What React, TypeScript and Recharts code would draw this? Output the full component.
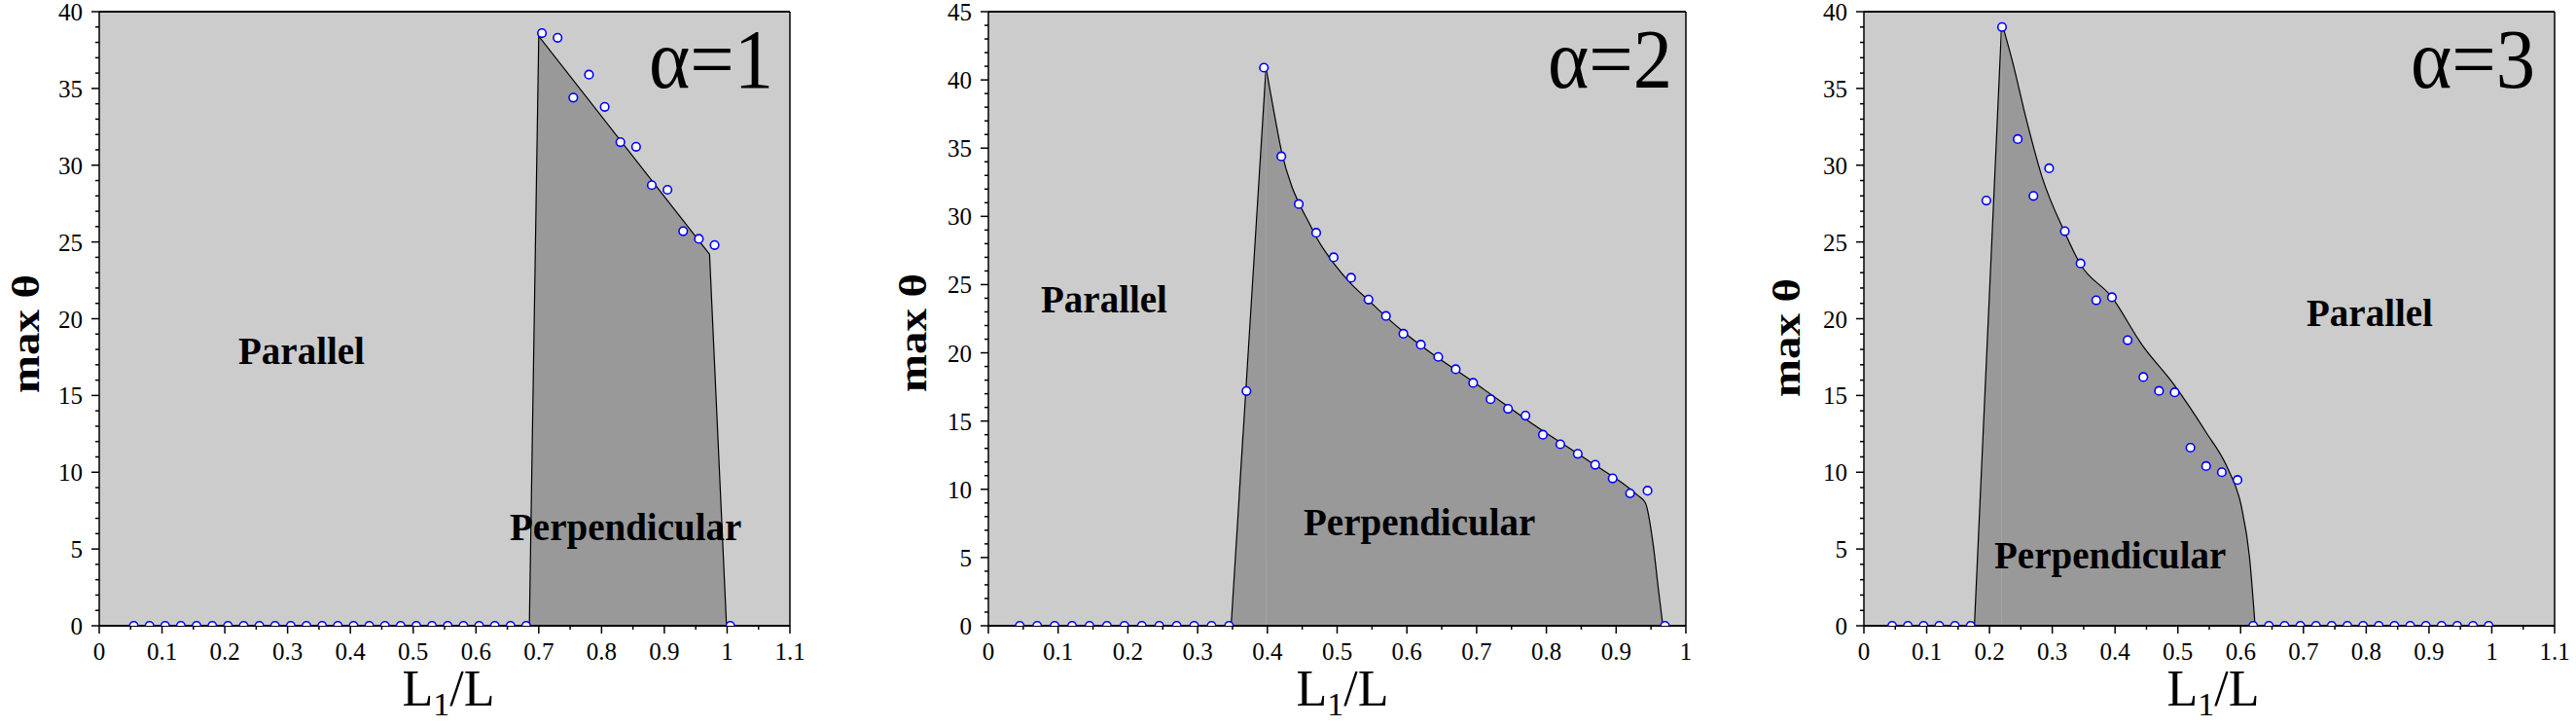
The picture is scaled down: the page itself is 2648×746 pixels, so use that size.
import React from 'react';
import { ComposedChart, Area, Scatter, XAxis, YAxis, CartesianGrid, ReferenceLine } from 'recharts';

const SERIF = '"Liberation Serif", "Times New Roman", Times, serif';

// L1/L sample positions
const L1_A1 = [
  0.055, 0.08, 0.105, 0.13, 0.155, 0.18, 0.205, 0.23, 0.255, 0.28, 0.305, 0.33, 0.355,
  0.38, 0.405, 0.43, 0.455, 0.48, 0.505, 0.53, 0.555, 0.58, 0.605, 0.63, 0.655, 0.68,
  0.705, 0.73, 0.755, 0.78, 0.805, 0.83, 0.855, 0.88, 0.905, 0.93, 0.955, 0.98, 1.005,
];
const L1_A23 = [
  0.045, 0.07, 0.095, 0.12, 0.145, 0.17, 0.195, 0.22, 0.245, 0.27, 0.295, 0.32, 0.345,
  0.37, 0.395, 0.42, 0.445, 0.47, 0.495, 0.52, 0.545, 0.57, 0.595, 0.62, 0.645, 0.67,
  0.695, 0.72, 0.745, 0.77, 0.795, 0.82, 0.845, 0.87, 0.895, 0.92, 0.945, 0.97, 0.995,
];

// simulated max θ at each sample
const THETA_A1 = [
  0, 0, 0, 0, 0, 0, 0, 0, 0, 0, 0, 0, 0, 0, 0, 0, 0, 0, 0, 0, 0, 0, 0, 0, 0, 0,
  38.6, 38.3, 34.4, 35.9, 33.8, 31.5, 31.2, 28.7, 28.4, 25.7, 25.2, 24.8, 0,
];
const THETA_A2 = [
  0, 0, 0, 0, 0, 0, 0, 0, 0, 0, 0, 0, 0,
  17.2, 40.9, 34.4, 30.9, 28.8, 27.0, 25.5, 23.9, 22.7, 21.4, 20.6, 19.7, 18.8,
  17.8, 16.6, 15.9, 15.4, 14.0, 13.3, 12.6, 11.8, 10.8, 9.7, 9.9, 0,
];
const THETA_A3 = [
  0, 0, 0, 0, 0, 0,
  27.7, 39.0, 31.7, 28.0, 29.8, 25.7, 23.6, 21.2, 21.4, 18.6, 16.2, 15.3, 15.2,
  11.6, 10.4, 10.0, 9.5,
  0, 0, 0, 0, 0, 0, 0, 0, 0, 0, 0, 0, 0, 0, 0, 0,
];

// phase boundary, α=1 (piecewise straight)
const EDGE_A1_X = [0.685, 0.7, 0.972, 0.999];
const EDGE_A1_Y = [0, 38.4, 24.2, 0];

// phase boundary, α=2: steep rise then smooth decay
const RISE_A2_X = [0.348, 0.398];
const RISE_A2_Y = [0, 40.9];
const FALL_A2_X = [0.398, 0.41, 0.421, 0.435, 0.446, 0.46, 0.471, 0.496, 0.521, 0.546, 0.571, 0.596, 0.621, 0.7, 0.78, 0.86, 0.93, 0.942, 0.953, 0.961, 0.967];
const FALL_A2_Y = [40.9, 37.5, 34.6, 32.2, 30.9, 29.5, 28.4, 26.5, 25.0, 23.8, 22.6, 21.5, 20.5, 17.7, 14.8, 12.1, 9.6, 9.0, 6.0, 2.5, 0];

// phase boundary, α=3
const RISE_A3_X = [0.176, 0.2195];
const RISE_A3_Y = [0, 39.3];
const FALL_A3_X = [0.2195, 0.237, 0.258, 0.284, 0.319, 0.344, 0.395, 0.443, 0.494, 0.545, 0.58, 0.601, 0.614, 0.623];
const FALL_A3_Y = [39.3, 36.7, 33.1, 29.2, 25.7, 23.6, 21.4, 18.3, 15.7, 12.6, 10.2, 7.8, 4.5, 0];

// labelled axis ticks
const X_MAJOR_11 = [0, 0.1, 0.2, 0.3, 0.4, 0.5, 0.6, 0.7, 0.8, 0.9, 1, 1.1];
const X_MAJOR_10 = [0, 0.1, 0.2, 0.3, 0.4, 0.5, 0.6, 0.7, 0.8, 0.9, 1];
const Y_MAJOR_40 = [0, 5, 10, 15, 20, 25, 30, 35, 40];
const Y_MAJOR_45 = [0, 5, 10, 15, 20, 25, 30, 35, 40, 45];

const AXIS_W = 60;
const PAD_R = 24;
const CHART_H = 746;
const TICK_FONT = 25;

const pairs = (xs: number[], ys: number[]) => ys.map((y, i) => ({ x: xs[i], y }));

// majors plus evenly spaced unlabelled ticks between them
const withMinor = (major: number[], parts: number) => {
  const out: number[] = [];
  major.forEach((m, i) => {
    out.push(m);
    const next = major[i + 1];
    if (next === undefined) return;
    for (let k = 1; k < parts; k++) out.push(m + ((next - m) * k) / parts);
  });
  return out;
};

const isMajor = (major: number[], v: number) => major.some((m) => Math.abs(m - v) < 1e-6);

const XTick = ({ x, y, payload, major }: any) => {
  const big = isMajor(major, payload.value);
  return (
    <g>
      <line x1={x} x2={x} y1={y} y2={y + (big ? 8 : 4)} stroke="#000" strokeWidth={1.5} />
      {big && (
        <text x={x} y={y + 17} dy="0.71em" textAnchor="middle" fontFamily={SERIF} fontSize={TICK_FONT} fill="#000">
          {String(payload.value)}
        </text>
      )}
    </g>
  );
};

const YTick = ({ x, y, payload, major }: any) => {
  const big = isMajor(major, payload.value);
  return (
    <g>
      <line x1={x} x2={x - (big ? 8 : 4)} y1={y} y2={y} stroke="#000" strokeWidth={1.5} />
      {big && (
        <text x={x - 17} y={y} dy="0.36em" textAnchor="end" fontFamily={SERIF} fontSize={TICK_FONT} fill="#000">
          {String(payload.value)}
        </text>
      )}
    </g>
  );
};

const Ring = (p: any) => (
  <circle cx={p.cx} cy={p.cy} r={4.3} fill="#ffffff" stroke="#0000ff" strokeWidth={1.6} />
);

type Edge = { data: { x: number; y: number }[]; type: 'linear' | 'monotone' };

type PanelProps = {
  left: number;
  plotWidth: number;
  xMax: number;
  xMajor: number[];
  yMax: number;
  yMajor: number[];
  points: { x: number; y: number }[];
  edges: Edge[];
};

function Panel({ left, plotWidth, xMax, xMajor, yMax, yMajor, points, edges }: PanelProps) {
  const xTicks = withMinor(xMajor, 2);
  const yTicks = withMinor(yMajor, 5);
  return (
    <div style={{ position: 'absolute', left: left - AXIS_W, top: 0 }}>
      <ComposedChart
        width={plotWidth + AXIS_W + PAD_R}
        height={CHART_H}
        margin={{ top: 12, right: PAD_R, bottom: 43, left: 0 }}
      >
        <CartesianGrid fill="#cccccc" stroke="none" horizontal={false} vertical={false} />
        <XAxis
          type="number"
          dataKey="x"
          domain={[0, xMax]}
          ticks={xTicks}
          interval={0}
          allowDataOverflow
          height={60}
          tickSize={0}
          tickMargin={0}
          tickLine={false}
          axisLine={{ stroke: '#000', strokeWidth: 2 }}
          tick={(p: any) => <XTick {...p} major={xMajor} />}
        />
        <YAxis
          type="number"
          dataKey="y"
          domain={[0, yMax]}
          ticks={yTicks}
          interval={0}
          allowDataOverflow
          width={AXIS_W}
          tickSize={0}
          tickMargin={0}
          tickLine={false}
          axisLine={{ stroke: '#000', strokeWidth: 1.5 }}
          tick={(p: any) => <YTick {...p} major={yMajor} />}
        />
        {edges.map((e, i) => (
          <Area
            key={i}
            data={e.data}
            dataKey="y"
            type={e.type}
            fill="#999999"
            fillOpacity={1}
            stroke="#000"
            strokeWidth={1.2}
            dot={false}
            activeDot={false}
            isAnimationActive={false}
          />
        ))}
        <ReferenceLine y={yMax} stroke="#000" strokeWidth={2} />
        <ReferenceLine x={xMax} stroke="#000" strokeWidth={1.5} />
        <Scatter data={points} shape={Ring} isAnimationActive={false} />
      </ComposedChart>
    </div>
  );
}

const PANELS = [
  {
    left: 102, plotWidth: 710, xMax: 1.1, xMajor: X_MAJOR_11, yMax: 40, yMajor: Y_MAJOR_40,
    points: pairs(L1_A1, THETA_A1),
    edges: [{ data: pairs(EDGE_A1_X, EDGE_A1_Y), type: 'linear' }] as Edge[],
    alpha: 'α=1', alphaX: 795,
    parallel: [245, 374], perp: [524, 555], yLabel: [40, 343], xLabel: 461,
  },
  {
    left: 1016, plotWidth: 717, xMax: 1, xMajor: X_MAJOR_10, yMax: 45, yMajor: Y_MAJOR_45,
    points: pairs(L1_A23, THETA_A2),
    edges: [
      { data: pairs(RISE_A2_X, RISE_A2_Y), type: 'linear' },
      { data: pairs(FALL_A2_X, FALL_A2_Y), type: 'monotone' },
    ] as Edge[],
    alpha: 'α=2', alphaX: 1719,
    parallel: [1070, 321], perp: [1340, 550], yLabel: [952, 342], xLabel: 1380,
  },
  {
    left: 1916, plotWidth: 710, xMax: 1.1, xMajor: X_MAJOR_11, yMax: 40, yMajor: Y_MAJOR_40,
    points: pairs(L1_A23, THETA_A3),
    edges: [
      { data: pairs(RISE_A3_X, RISE_A3_Y), type: 'linear' },
      { data: pairs(FALL_A3_X, FALL_A3_Y), type: 'monotone' },
    ] as Edge[],
    alpha: 'α=3', alphaX: 2606,
    parallel: [2371, 335], perp: [2050, 584], yLabel: [1850, 347], xLabel: 2275,
  },
];

export default function App() {
  return (
    <div style={{ position: 'absolute', left: 0, top: 0, width: 2648, height: 746, background: '#fff' }}>
      {PANELS.map((p, i) => (
        <Panel key={i} {...p} />
      ))}
      <svg
        width={2648}
        height={746}
        style={{ position: 'absolute', left: 0, top: 0, pointerEvents: 'none' }}
        fontFamily={SERIF}
        fill="#000"
      >
        {PANELS.map((p, i) => (
          <g key={i}>
            <text x={p.alphaX} y={90} fontSize={86} textAnchor="end" textLength={128} lengthAdjust="spacingAndGlyphs">
              {p.alpha}
            </text>
            <text x={p.parallel[0]} y={p.parallel[1]} fontSize={39} fontWeight="bold">Parallel</text>
            <text x={p.perp[0]} y={p.perp[1]} fontSize={39} fontWeight="bold">Perpendicular</text>
            <text
              x={p.yLabel[0]}
              y={p.yLabel[1]}
              fontSize={40}
              fontWeight="bold"
              textAnchor="middle"
              textLength={122}
              lengthAdjust="spacingAndGlyphs"
              transform={`rotate(-90 ${p.yLabel[0]} ${p.yLabel[1]})`}
            >
              max θ
            </text>
            <text x={p.xLabel} y={725} fontSize={52} textAnchor="middle">
              L<tspan fontSize={34} dy={10}>1</tspan><tspan dy={-10}>/L</tspan>
            </text>
          </g>
        ))}
      </svg>
    </div>
  );
}
